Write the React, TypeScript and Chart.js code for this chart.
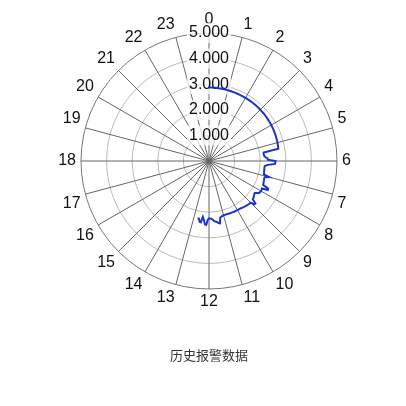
import React, { useEffect, useRef } from 'react';
import { Chart, registerables } from 'chart.js';

Chart.register(...registerables);

// Hour labels around the polar axis (0 at top, clockwise)
const HOURS = ['0', '1', '2', '3', '4', '5', '6', '7', '8', '9', '10', '11', '12', '13', '14', '15', '16', '17', '18', '19', '20', '21', '22', '23'];
// Samples per hour (5-minute resolution)
const SLOTS_PER_HOUR = 12;
// Alarm values, one every 5 minutes from 00:00 (data ends around 12:45)
const ALARM_VALUES = [
  // 0h
  2870, 2870, 2870, 2870, 2868, 2866, 2865, 2865, 2864, 2862, 2860, 2860,
  // 1h
  2860, 2858, 2857, 2856, 2855, 2855, 2854, 2852, 2850, 2850, 2850, 2849,
  // 2h
  2848, 2847, 2846, 2845, 2845, 2843, 2841, 2840, 2840, 2838, 2836, 2835,
  // 3h
  2833, 2831, 2830, 2828, 2826, 2825, 2822, 2820, 2818, 2815, 2812, 2810,
  // 4h
  2808, 2805, 2802, 2800, 2797, 2794, 2790, 2787, 2783, 2780, 2776, 2772,
  // 5h
  2768, 2764, 2760, 2755, 2750, 2160, 2150, 2160, 2170, 2220, 2290, 2300,
  // 6h
  2600, 2590, 2580, 2300, 2200, 2180, 2180, 2185, 2190, 2195, 2200, 2210,
  // 7h
  2430, 2270, 2260, 2270, 2280, 2290, 2300, 2310, 2550, 2560, 2330, 2340,
  // 8h
  2350, 2340, 2320, 2250, 2180, 2190, 2220, 2240, 2260, 2280, 2460, 2450,
  // 9h
  2300, 2295, 2290, 2285, 2275, 2265, 2255, 2245, 2235, 2228, 2222, 2220,
  // 10h
  2218, 2215, 2212, 2210, 2206, 2203, 2200, 2198, 2195, 2192, 2190, 2190,
  // 11h
  2195, 2210, 2230, 2250, 2470, 2450, 2400, 2380, 2360, 2300, 2260, 2250,
  // 12h
  2240, 2300, 2500, 2480, 2300, 2200, 2420, 2400, 2280, 2290,
];
const RADIAL_MIN = 0;
const RADIAL_MAX = 5000;
const RADIAL_STEP = 1000;
const TITLE = '历史报警数据';
const SERIES_NAME = '报警';

function formatTick(v: number): string {
  const k = Math.floor(v / 1000);
  const r = Math.round(v % 1000);
  return k + '.' + String(r).padStart(3, '0');
}

export default function App() {
  const ref = useRef<HTMLCanvasElement | null>(null);

  useEffect(() => {
    if (!ref.current) return;
    const total = HOURS.length * SLOTS_PER_HOUR;
    const labels = Array.from({ length: total }, (_, i) =>
      i % SLOTS_PER_HOUR === 0 ? HOURS[i / SLOTS_PER_HOUR] : ''
    );
    const data = Array.from({ length: total }, (_, i) =>
      i < ALARM_VALUES.length ? ALARM_VALUES[i] : null
    );
    const family = "'Liberation Sans', Arial, Helvetica, sans-serif";

    const chart = new Chart(ref.current, {
      type: 'radar',
      data: {
        labels,
        datasets: [
          {
            label: SERIES_NAME,
            data,
            borderColor: '#1a35c8',
            backgroundColor: 'rgba(0,0,0,0)',
            borderWidth: 2,
            pointRadius: 0,
            pointHoverRadius: 0,
            fill: false,
            spanGaps: false,
            tension: 0,
          },
        ],
      },
      options: {
        responsive: false,
        animation: false,
        layout: { padding: { top: 4, left: 12, right: 0, bottom: 20 } },
        plugins: {
          legend: { display: false },
          tooltip: { enabled: false },
          title: {
            display: true,
            text: TITLE,
            position: 'bottom',
            color: '#333',
            font: { size: 13, weight: 'normal', family: "'Noto Sans CJK SC', sans-serif", lineHeight: 1.2 },
            padding: { top: 37.2, bottom: 15.2 },
          },
        },
        scales: {
          r: {
            min: RADIAL_MIN,
            max: RADIAL_MAX,
            ticks: {
              stepSize: RADIAL_STEP,
              callback: (v: any) => formatTick(Number(v)),
              color: '#111',
              font: { size: 16, family },
              showLabelBackdrop: true,
              backdropColor: 'rgba(255,255,255,0.75)',
              backdropPadding: 2,
            },
            grid: {
              circular: true,
              color: (ctx: any) => (ctx.tick && ctx.tick.value === RADIAL_MAX ? '#777' : '#bbb'),
              lineWidth: 1,
            },
            angleLines: {
              color: (ctx: any) => (ctx.index % SLOTS_PER_HOUR === 0 ? '#666' : 'rgba(0,0,0,0)'),
              lineWidth: (ctx: any) => (ctx.index % SLOTS_PER_HOUR === 0 ? 1 : 0),
            },
            pointLabels: {
              display: true,
              color: '#111',
              font: { size: 16, family, lineHeight: 1 },
              padding: -5,
            },
          },
        },
      } as any,
    });
    return () => chart.destroy();
  }, []);

  return (
    <div style={{ width: 390, height: 390 }}>
      <canvas ref={ref} width={390} height={390} style={{ display: 'block', width: 390, height: 390 }} />
    </div>
  );
}
